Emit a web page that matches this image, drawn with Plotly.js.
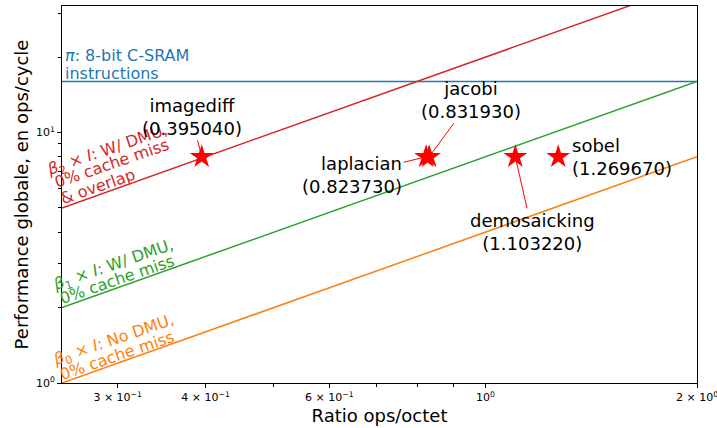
<!DOCTYPE html>
<html>
<head>
<meta charset="utf-8">
<script src="https://cdn.plot.ly/plotly-3.0.1.min.js"></script>
<style>html,body{margin:0;padding:0;background:#fff;}#chart{width:717px;height:428px;}</style>
</head>
<body>
<div id="chart"></div>
<script>
// Roofline endpoints (ops/octet, ops/cycle)
const roofX = [0.25, 2];
const piY = [16, 16];
const beta0Y = [1, 8];
const beta1Y = [2, 16];
const beta2Y = [5, 40];

// Benchmarks
const benchNames = ["imagediff", "jacobi", "laplacian", "demosaicking", "sobel"];
const benchX = [0.395040, 0.831930, 0.823730, 1.103220, 1.269670];
const benchY = [8, 8, 8, 8, 8];

// Tick labels
const xTickVals = [0.3, 0.4, 0.6, 1, 2];
const xTickText = ["3\u00a0×\u00a010<sup>−1</sup>", "4\u00a0×\u00a010<sup>−1</sup>", "6\u00a0×\u00a010<sup>−1</sup>", "10<sup>0</sup>", "2\u00a0×\u00a010<sup>0</sup>"];
const xMinorVals = [0.5, 0.7, 0.8, 0.9];
const yTickVals = [1, 10];
const yTickText = ["10<sup>0</sup>", "10<sup>1</sup>"];
const yMinorVals = [2, 3, 4, 5, 6, 7, 8, 9, 20, 30];

const FONT = "DejaVu Sans, sans-serif";
const L = Math.log10;

const traces = [
  {x: roofX, y: piY, mode: "lines", line: {color: "#1f77b4", width: 1.5}, hoverinfo: "skip"},
  {x: roofX, y: beta0Y, mode: "lines", line: {color: "#ff7f0e", width: 1.5}, hoverinfo: "skip"},
  {x: roofX, y: beta1Y, mode: "lines", line: {color: "#2ca02c", width: 1.5}, hoverinfo: "skip"},
  {x: roofX, y: beta2Y, mode: "lines", line: {color: "#d62728", width: 1.5}, hoverinfo: "skip"},
  {x: benchX, y: benchY, mode: "markers", marker: {symbol: "star", size: 18, color: "#ff0000", line: {width: 0}}, hoverinfo: "skip"}
];

const annCfg = {
  imagediff:   {ax: -10, ay: -40, align: "center", arrow: true},
  jacobi:      {ax: 42, ay: -57, align: "center", arrow: true},
  laplacian:   {ax: -74, ay: 18, align: "right", arrow: true},
  demosaicking:{ax: 17, ay: 75, align: "center", arrow: true},
  sobel:       {ax: 0, ay: 0, align: "left", arrow: false}
};

// plot-area pixel helpers for label placement
const PX0 = 62, PW = 635, PY1 = 383, PH = 377;
const px = v => (v - PX0) / PW;
const py = v => (PY1 - v) / PH;

const annotations = [];
const rot = -19;
// roofline labels, one line each: [text, colour, centre x px, centre y px]
const rotLines = [
  ["<i>β</i><sub>2</sub> × <i>I</i>: W/ DMU,", "#d62728", 107, 150],
  ["0% cache miss", "#d62728", 111.5, 163.5],
  ["&amp; overlap", "#d62728", 97.5, 186.5],
  ["<i>β</i><sub>1</sub> × <i>I</i>: W/ DMU,", "#2ca02c", 113, 265],
  ["0% cache miss", "#2ca02c", 117, 279],
  ["<i>β</i><sub>0</sub> × <i>I</i>: No DMU,", "#ff7f0e", 113, 340],
  ["0% cache miss", "#ff7f0e", 117, 355]
];
rotLines.forEach(r => {
  annotations.push({xref: "paper", yref: "paper", x: px(r[2]), y: py(r[3]), xanchor: "center", yanchor: "middle",
    text: r[0], textangle: rot, showarrow: false, font: {family: FONT, size: 16, color: r[1]}});
});
annotations.push({xref: "paper", yref: "paper", x: px(63), y: py(55), xanchor: "left", yanchor: "middle",
  text: "<i>π</i>: 8-bit C-SRAM", showarrow: false, font: {family: FONT, size: 16, color: "#1f77b4"}});
annotations.push({xref: "paper", yref: "paper", x: px(63), y: py(73), xanchor: "left", yanchor: "middle",
  text: "instructions", showarrow: false, font: {family: FONT, size: 16, color: "#1f77b4"}});

benchNames.forEach((n, i) => {
  const c = annCfg[n];
  const txt = n + "<br>(" + benchX[i].toFixed(6) + ")";
  if (c.arrow) {
    annotations.push({x: L(benchX[i]), y: L(benchY[i]), xref: "x", yref: "y", text: txt, align: c.align,
      showarrow: true, ax: c.ax, ay: c.ay, arrowhead: 1, arrowsize: 0.7, arrowwidth: 1, arrowcolor: "#ff0000",
      standoff: 2, font: {family: FONT, size: 18, color: "#000"}});
  } else {
    annotations.push({x: L(benchX[i]), y: L(benchY[i]), xref: "x", yref: "y", text: txt, align: "left",
      xanchor: "left", yanchor: "middle", xshift: 12, showarrow: false,
      font: {family: FONT, size: 18, color: "#000"}});
  }
});

const layout = {
  width: 717, height: 428,
  margin: {l: 62, r: 20, t: 6, b: 45},
  paper_bgcolor: "#fff", plot_bgcolor: "#fff",
  showlegend: false,
  font: {family: FONT, color: "#000"},
  xaxis: {
    type: "log", range: [L(0.25), L(2)],
    tickmode: "array", tickvals: xTickVals, ticktext: xTickText,
    ticks: "outside", ticklen: 4, tickwidth: 1, tickcolor: "#000",
    ticklabeloverflow: "allow",
    minor: {tickmode: "array", tickvals: xMinorVals, ticks: "outside", ticklen: 3, tickcolor: "#000", showgrid: false},
    showline: true, linecolor: "#000", linewidth: 1, mirror: true,
    showgrid: false, zeroline: false,
    tickfont: {family: FONT, size: 11, color: "#000"},
    title: {text: "Ratio ops/octet", font: {family: FONT, size: 18, color: "#000"}, standoff: 6}
  },
  yaxis: {
    type: "log", range: [0, L(32)],
    tickmode: "array", tickvals: yTickVals, ticktext: yTickText,
    ticks: "outside", ticklen: 4, tickwidth: 1, tickcolor: "#000",
    minor: {tickmode: "array", tickvals: yMinorVals, ticks: "outside", ticklen: 3, tickcolor: "#000", showgrid: false},
    showline: true, linecolor: "#000", linewidth: 1, mirror: true,
    showgrid: false, zeroline: false,
    tickfont: {family: FONT, size: 11, color: "#000"},
    title: {text: "Performance globale, en ops/cycle", font: {family: FONT, size: 18, color: "#000"}, standoff: 2}
  },
  annotations: annotations
};

Plotly.newPlot("chart", traces, layout, {displayModeBar: false, staticPlot: true});
</script>
</body>
</html>
